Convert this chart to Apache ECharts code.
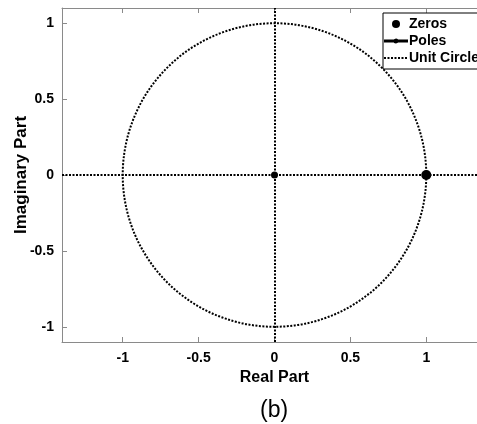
<!DOCTYPE html>
<html>
<head>
<meta charset="utf-8">
<script src="https://cdn.jsdelivr.net/npm/echarts@6/dist/echarts.min.js"></script>
<style>
  html, body { margin: 0; padding: 0; background: #fff; }
  #chart { width: 477px; height: 424px; }
</style>
</head>
<body>
<div id="chart"></div>
<script>
// pole-zero plot values
const zeros = [[1, 0]];
const poles = [[0, 0]];
const unitCircle = [[0, 0, 1]]; // centre x, centre y, radius
const xTicks = [-1, -0.5, 0, 0.5, 1];
const yTicks = [-1, -0.5, 0, 0.5, 1];

const font = "Liberation Sans, Arial, sans-serif";
const frame = "#8a8a8a";
const dotted = { color: "#000", width: 2, type: [2, 1.5] };

const chart = echarts.init(document.getElementById("chart"));

chart.setOption({
  animation: false,
  backgroundColor: "#fff",
  title: {
    text: "(b)",
    left: 255,
    top: 394,
    textStyle: { fontFamily: font, fontSize: 23, fontWeight: "normal", color: "#000" }
  },
  grid: { left: 62, top: 8, right: -10, bottom: 82, outerBoundsMode: "none", containLabel: false },
  legend: {
    orient: "vertical",
    left: 383,
    top: 13,
    align: "left",
    itemWidth: 24,
    itemHeight: 8,
    itemGap: 3,
    padding: [4, 20, 4, 1],
    borderColor: "#000",
    borderWidth: 1,
    backgroundColor: "#fff",
    textStyle: { fontFamily: font, fontSize: 14, fontWeight: "bold", color: "#000", padding: [0, 0, 0, -4] },
    data: [
      { name: "Zeros", icon: "circle", itemStyle: { color: "#000", opacity: 1 } },
      { name: "Poles", icon: "path://M0,0M24,8M0,2.5H24V5.5H0Z M12,1.5A2.5,2.5 0 1,1 11.99,1.5Z", itemStyle: { color: "#000", opacity: 1 } },
      { name: "Unit Circle", icon: "path://M0,0M24,8M0,3h2v2h-2zM3.5,3h2v2h-2zM7,3h2v2h-2zM10.5,3h2v2h-2zM14,3h2v2h-2zM17.5,3h2v2h-2zM21,3h2v2h-2z", itemStyle: { color: "#000", opacity: 1 } }
    ]
  },
  xAxis: [
    {
      type: "value",
      min: -1.4,
      max: 1.4,
      position: "bottom",
      name: "Real Part",
      nameLocation: "middle",
      nameGap: 28,
      nameMoveOverlap: false,
      nameTextStyle: { fontFamily: font, fontSize: 16, fontWeight: "bold", color: "#000" },
      axisLine: { onZero: false, lineStyle: { color: frame, width: 1 } },
      axisTick: { inside: true, length: 5, customValues: xTicks, lineStyle: { color: frame } },
      axisLabel: { customValues: xTicks, margin: 9, fontFamily: font, fontSize: 14, fontWeight: "bold", color: "#000" },
      splitLine: { show: false }
    },
    {
      type: "value",
      min: -1.4,
      max: 1.4,
      position: "top",
      axisLine: { onZero: false, lineStyle: { color: frame, width: 1 } },
      axisTick: { inside: true, length: 5, customValues: xTicks, lineStyle: { color: frame } },
      axisLabel: { show: false },
      splitLine: { show: false }
    }
  ],
  yAxis: {
    type: "value",
    min: -1.1,
    max: 1.1,
    name: "Imaginary Part",
    nameLocation: "middle",
    nameGap: 32,
    nameMoveOverlap: false,
    nameTextStyle: { fontFamily: font, fontSize: 17, fontWeight: "bold", color: "#000" },
    axisLine: { show: true, onZero: false, lineStyle: { color: frame, width: 1 } },
    axisTick: { show: true, inside: true, length: 5, customValues: yTicks, lineStyle: { color: frame } },
    axisLabel: { customValues: yTicks, margin: 8, fontFamily: font, fontSize: 14, fontWeight: "bold", color: "#000" },
    splitLine: { show: false }
  },
  series: [
    {
      name: "Zeros",
      type: "scatter",
      data: zeros,
      symbol: "circle",
      symbolSize: 10,
      itemStyle: { color: "#000", opacity: 1 },
      z: 5
    },
    {
      name: "Poles",
      type: "scatter",
      data: poles,
      symbol: "circle",
      symbolSize: 7,
      itemStyle: { color: "#000", opacity: 1 },
      z: 5,
      markLine: {
        silent: true,
        symbol: "none",
        label: { show: false },
        lineStyle: dotted,
        data: [{ xAxis: 0 }, { yAxis: 0 }]
      }
    },
    {
      name: "Unit Circle",
      type: "custom",
      data: unitCircle,
      encode: { x: 0, y: 1 },
      renderItem: function (params, api) {
        const c = api.coord([api.value(0), api.value(1)]);
        const r = api.size([api.value(2), 0])[0];
        return {
          type: "circle",
          shape: { cx: c[0], cy: c[1], r: r },
          style: { fill: null, stroke: "#000", lineWidth: 2, lineDash: [2, 1.5] }
        };
      },
      itemStyle: { color: "#000" }
    }
  ]
});
</script>
</body>
</html>
